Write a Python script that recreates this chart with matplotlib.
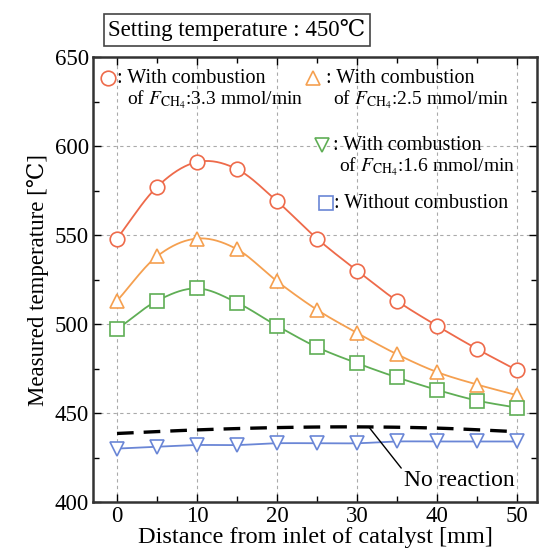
import numpy as np
import matplotlib
matplotlib.use('Agg')
import matplotlib.pyplot as plt

plt.rcParams['font.family'] = ['Liberation Serif', 'DejaVu Serif']
plt.rcParams['mathtext.fontset'] = 'stix'

# distance from inlet [mm]
dist = [0, 5, 10, 15, 20, 25, 30, 35, 40, 45, 50]
t_33 = [548, 577, 591, 587, 569, 548, 530, 513, 499, 486, 474]
t_25 = [513, 538, 548, 542, 524, 508, 495, 483, 473, 466, 460]
t_16 = [497, 513, 520, 512, 499, 487, 478, 470, 463, 457, 453]
t_none = [430, 431, 432, 432, 433, 433, 433, 434, 434, 434, 434]
# no reaction (dashed)
dist_nr = [0, 10, 20, 30, 40, 50]
t_nr = [438.5, 440.5, 441.8, 442.2, 441.5, 439.5]

c_red = '#ee6a4a'
c_orange = '#f5a050'
c_green = '#5fae55'
c_blue = '#6a86d6'


def smooth(x, y, n=20):
    # catmull-rom through the points, just for drawing
    x = np.asarray(x, float)
    y = np.asarray(y, float)
    xs, ys = [], []
    for i in range(len(x) - 1):
        p0 = y[i - 1] if i > 0 else 2 * y[i] - y[i + 1]
        p3 = y[i + 2] if i + 2 < len(y) else 2 * y[i + 1] - y[i]
        p1, p2 = y[i], y[i + 1]
        t = np.linspace(0, 1, n, endpoint=False)
        ys.append(0.5 * (2 * p1 + (-p0 + p2) * t + (2 * p0 - 5 * p1 + 4 * p2 - p3) * t ** 2
                         + (-p0 + 3 * p1 - 3 * p2 + p3) * t ** 3))
        xs.append(x[i] + (x[i + 1] - x[i]) * t)
    xs.append([x[-1]])
    ys.append([y[-1]])
    return np.concatenate(xs), np.concatenate(ys)


fig = plt.figure(figsize=(5.43, 5.60), dpi=100)
ax = fig.add_axes([93 / 543, 58 / 560, 444 / 543, 445 / 560])

mk = dict(markersize=10.5, markerfacecolor='white', markeredgewidth=1.2, linestyle='none')
for y, c, m in [(t_33, c_red, 'o'), (t_25, c_orange, '^'), (t_16, c_green, 's'), (t_none, c_blue, 'v')]:
    sx, sy = smooth(dist, y)
    ax.plot(sx, sy, color=c, lw=1.3, zorder=2)
    ax.plot(dist, y, marker=m, color=c, zorder=3, **mk)

sx, sy = smooth(dist_nr, t_nr)
ax.plot(sx, sy, color='black', lw=2.4, dashes=(5, 3), zorder=2)

ax.set_xlim(-3, 52.5)
ax.set_ylim(400, 650)
ax.set_xticks([0, 10, 20, 30, 40, 50])
ax.set_xticks([5, 15, 25, 35, 45], minor=True)
ax.set_yticks([400, 450, 500, 550, 600, 650])
ax.set_yticks([425, 475, 525, 575, 625], minor=True)
ax.tick_params(which='both', direction='in', top=True, right=True, labelsize=16.5, width=1.0)
ax.tick_params(which='major', length=6, pad=3)
ax.tick_params(which='minor', length=4)
ax.grid(True, which='major', linestyle=(0, (3, 3)), color='#aaaaaa', lw=0.8)
for s in ax.spines.values():
    s.set_linewidth(1.8)
    s.set_color('#333333')

ax.set_xlabel('Distance from inlet of catalyst [mm]', fontsize=17.5, labelpad=0)
ax.set_ylabel('Measured temperature [\u2103]', fontsize=16.5, labelpad=4)


def fx(px):
    return (px - 93) / 444


def fy(py):
    return (502 - py) / 445


leg = [
    (108, 78, 'o', c_red, ': With combustion', r'of $F_{\mathrm{CH_4}}$:3.3 mmol/min', 117, 127),
    (313, 78, '^', c_orange, ': With combustion', r'of $F_{\mathrm{CH_4}}$:2.5 mmol/min', 326, 333),
    (322, 145, 'v', c_green, ': With combustion', r'of $F_{\mathrm{CH_4}}$:1.6 mmol/min', 333, 339),
    (326, 203, 's', c_blue, ': Without combustion', None, 334, None),
]
for mx, my, m, c, t1, t2, tx1, tx2 in leg:
    ax.plot([fx(mx)], [fy(my)], marker=m, color=c, transform=ax.transAxes,
            clip_on=False, zorder=5, **mk)
    ax.text(fx(tx1), fy(my), t1, transform=ax.transAxes, fontsize=14.5, va='center', ha='left')
    if t2:
        ax.text(fx(tx2), fy(my + 22), t2, transform=ax.transAxes, fontsize=14, va='center', ha='left')

ax.annotate('No reaction', xy=(31.5, 442), xytext=(fx(404), fy(480)),
            textcoords='axes fraction', fontsize=17, va='center', ha='left',
            arrowprops=dict(arrowstyle='-', color='black', lw=1.0, shrinkA=0, shrinkB=0,
                            relpos=(0, 0.9)))

fig.text(237 / 543, 1 - 30 / 560, 'Setting temperature : 450\u2103', fontsize=16.5,
         ha='center', va='center',
         bbox=dict(boxstyle='square,pad=0.2', facecolor='white', edgecolor='#444444', lw=1.2))

fig.savefig('out.png', dpi=100)
